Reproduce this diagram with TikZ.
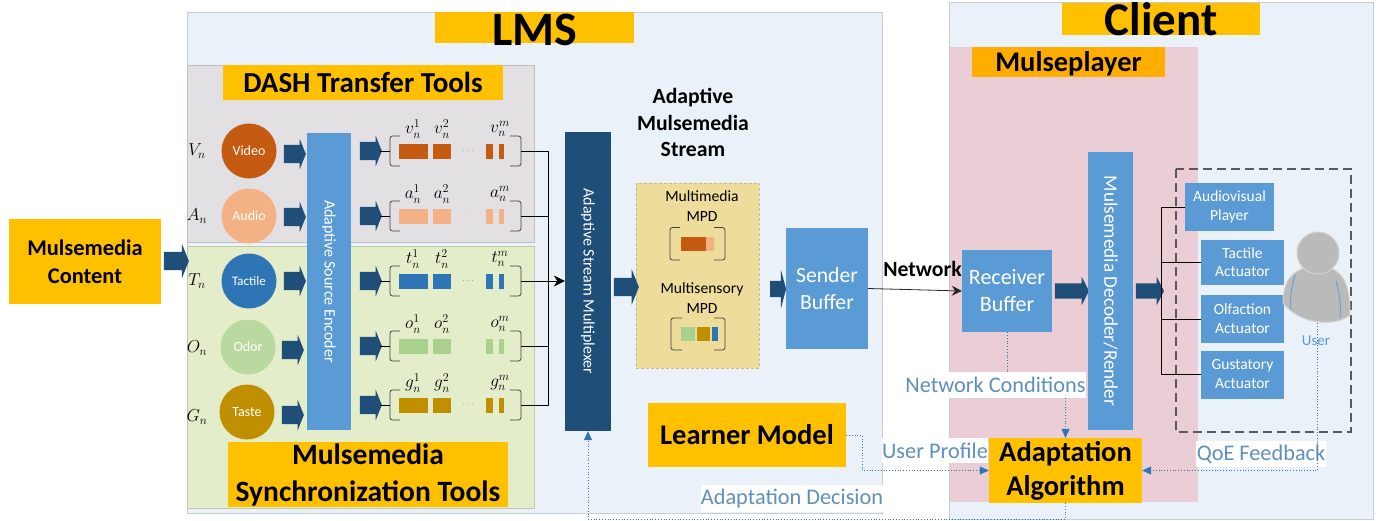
\documentclass[tikz,border=0pt]{standalone}
\usepackage{amsmath}
\usepackage{fontspec}
\setmainfont{Carlito}
\usepackage{tikz}
\usetikzlibrary{shapes,arrows.meta}

\definecolor{lmspanel}{HTML}{EAF1F9}
\definecolor{graypanel}{HTML}{E3E0E4}
\definecolor{greenpanel}{HTML}{E3EDC9}
\definecolor{pinkpanel}{HTML}{EBCDD5}
\definecolor{mpdpanel}{HTML}{EEDC9A}
\definecolor{titleyellow}{HTML}{FFC000}
\definecolor{boxblue}{HTML}{5B9BD5}
\definecolor{muxblue}{HTML}{1F4E79}
\definecolor{linkblue}{HTML}{2E75B6}
\definecolor{linktext}{HTML}{5F8FBC}
\definecolor{videoc}{HTML}{C55A11}
\definecolor{audioc}{HTML}{F4B183}
\definecolor{tactilec}{HTML}{2E75B6}
\definecolor{odorc}{HTML}{A9D18E}
\definecolor{tastec}{HTML}{BF8F00}

\tikzset{
  panel/.style={draw=#1!85!black,line width=0.6pt,fill=#1},
  titlebox/.style 2 args={fill=titleyellow,inner sep=0pt,align=center,font=\bfseries\fontsize{#1}{#2}\selectfont},
  bluebox/.style={fill=boxblue,text=white,inner sep=0pt,align=center},
  source/.style={circle,fill=#1,text=white,minimum size=55pt,inner sep=0pt,font=\fontsize{14}{14}\selectfont},
  blockarrow/.style={single arrow,fill=muxblue,inner xsep=0pt,inner ysep=9pt,
    single arrow head extend=6pt,single arrow tip angle=136},
  segbar/.style={minimum height=15pt,inner sep=0pt},
  seglabel/.style={inner sep=0pt,font=\fontsize{18}{18}\selectfont},
  bracketline/.style={draw=black!75,line width=0.8pt,rounded corners=2.5pt},
  busline/.style={draw=black,line width=0.8pt},
  dotlink/.style={draw=linkblue,dotted,line width=0.8pt},
  dotarrow/.style={dotlink,-{Triangle[length=9pt,width=8pt]}},
  linklabel/.style={fill=white,text=linktext,inner sep=0pt,font=\fontsize{22.3}{22.3}\selectfont},
}

\newcommand{\segrow}[4]{%
\node[blockarrow,minimum height=22pt] (#1arrow) at (369,#2) {};
\draw[bracketline] (400,#2-15) -- (390,#2-15) -- (390,#2+15) -- (400,#2+15);
\draw[bracketline] (510,#2-15) -- (521,#2-15) -- (521,#2+15) -- (510,#2+15);
\draw[busline] (380,#2) -- (390,#2);
\node[segbar,fill=#3,minimum width=29pt] (#1seg1) at (413,#2) {};
\node[segbar,fill=#3,minimum width=18pt] (#1seg2) at (442,#2) {};
\node[text=#3!75,inner sep=0pt] (#1dots) at (469,#2) {$\cdots$};
\node[segbar,fill=#3,minimum width=7pt] (#1seg3) at (489,#2) {};
\node[segbar,fill=#3,minimum width=5pt] (#1seg4) at (501,#2) {};
\node[seglabel] (#1top1) at (413,#2-22) {$#4_n^1$};
\node[seglabel] (#1top2) at (442,#2-22) {$#4_n^2$};
\node[seglabel] (#1topm) at (500,#2-22) {$#4_n^m$};
\coordinate (#1out) at (521,#2);
\coordinate (#1bus) at (548.5,#2);
\draw[busline] (#1out) -- (#1bus);
}

\begin{document}
\begin{tikzpicture}[x=1pt,y=-1pt]
\useasboundingbox (0,0) rectangle (1382,520);
% panels
\filldraw[panel=lmspanel] (187,12) rectangle (882,513);
\filldraw[panel=lmspanel] (949,2) rectangle (1373,519);
\filldraw[panel=graypanel] (187,65) rectangle (534,242);
\filldraw[panel=greenpanel] (187,246) rectangle (534,508);
\fill[pinkpanel] (950,47) rectangle (1198,502);
\filldraw[panel=mpdpanel,densely dashed] (636,183) rectangle (759,368);
% titles
\node[titlebox={48}{48},minimum width=199pt,minimum height=31pt,text height=31pt,text depth=0pt] (lmstitle) at (534.5,27.5) {\raisebox{-2pt}{LMS}};
\node[titlebox={47}{47},minimum width=198pt,minimum height=32pt,text height=32pt,text depth=0pt] (clienttitle) at (1161,19) {Client};
\node[titlebox={28.5}{28.5},minimum width=193pt,minimum height=30pt,text height=24pt,text depth=6pt,fill=titleyellow!70!orange] (playertitle) at (1068.5,62) {Mulseplayer};
\node[titlebox={29}{29},minimum width=280pt,minimum height=35pt] (dashtitle) at (363,82.5) {DASH Transfer Tools};
\node[titlebox={29.5}{37},minimum width=280pt,minimum height=65pt] (synctitle) at (368,474.5) {Mulsemedia\\Synchronization Tools};
% content
\node[titlebox={22.4}{28},minimum width=152pt,minimum height=85pt] (content) at (85,261.5) {Mulsemedia\\Content};
\node[blockarrow,minimum height=25pt,single arrow head extend=8pt] (contentarrow) at (174.5,261) {};
% sources
\node[seglabel] (vlabel) at (197,151) {$V_n$};
\node[seglabel] (alabel) at (197,216) {$A_n$};
\node[seglabel] (tlabel) at (197,281) {$T_n$};
\node[seglabel] (olabel) at (197,348) {$O_n$};
\node[seglabel] (glabel) at (197,417) {$G_n$};
\node[source=videoc] (video) at (249,151) {Video};
\node[source=audioc] (audio) at (249,216) {Audio};
\node[source=tactilec,font=\fontsize{13}{13}\selectfont] (tactile) at (249,281) {Tactile};
\node[source=odorc!70!greenpanel] (odor) at (248,347) {Odor};
\node[source=tastec] (taste) at (247,412) {Taste};
\node[blockarrow,minimum height=22pt] (videoin) at (293,154) {};
\node[blockarrow,minimum height=22pt] (audioin) at (293,217) {};
\node[blockarrow,minimum height=22pt] (tactilein) at (293,281) {};
\node[blockarrow,minimum height=22pt] (odorin) at (291,350) {};
\node[blockarrow,minimum height=22pt] (tastein) at (291,415) {};
\node[bluebox,minimum width=44pt,minimum height=297pt] (encoder) at (329,281.5) {};
\node[rotate=-90,text=white,font=\fontsize{16}{16}\selectfont] (encodertext) at (encoder) {Adaptive Source Encoder};
% segments
\segrow{video}{151}{videoc}{v}
\segrow{audio}{216}{audioc}{a}
\segrow{tactile}{281}{tactilec}{t}
\segrow{odor}{346}{odorc}{o}
\segrow{taste}{405}{tastec}{g}
% multiplexer
\node[fill=muxblue,minimum width=46pt,minimum height=299pt,inner sep=0pt] (mux) at (588,281.5) {};
\node[rotate=-90,text=white,font=\fontsize{16}{16}\selectfont] (muxtext) at (mux) {Adaptive Stream Multiplexer};
\draw[busline] (videobus) -- (tastebus);
\draw[busline,-{Stealth[length=11pt,width=11pt]}] (tactilebus) -- (mux.west |- tactilebus);
\node[blockarrow,minimum height=25pt,single arrow head extend=8.5pt] (muxarrow) at (624.5,287) {};
% stream
\node[align=center,inner sep=0pt,font=\bfseries\fontsize{21.7}{26.5}\selectfont] (streamtitle) at (693,122.5) {Adaptive\\Mulsemedia\\Stream};
\node[align=center,inner sep=0pt,font=\fontsize{15.6}{19.5}\selectfont] (mmtext) at (702,206) {Multimedia\\MPD};
\node[align=center,inner sep=0pt,font=\fontsize{15.6}{19.5}\selectfont] (mstext) at (702,298) {Multisensory\\MPD};
\draw[bracketline] (680,227.5) -- (670,227.5) -- (670,260) -- (680,260);
\draw[bracketline] (714,227.5) -- (725,227.5) -- (725,260) -- (714,260);
\fill[videoc] (681,237) rectangle (706,251);
\fill[audioc] (706,237) rectangle (714,251);
\draw[bracketline] (682,318) -- (671,318) -- (671,350) -- (682,350);
\draw[bracketline] (714,318) -- (725,318) -- (725,350) -- (714,350);
\fill[odorc] (681,327) rectangle (695,341);
\fill[tastec] (697,327) rectangle (710,341);
\fill[tactilec] (712,327) rectangle (718,341);
\node[blockarrow,minimum height=16pt,inner ysep=8pt,single arrow head extend=11pt,single arrow tip angle=150] (streamarrow) at (777,289) {};
% buffers
\node[bluebox,minimum width=82pt,minimum height=121pt,font=\fontsize{21.7}{27}\selectfont] (sender) at (827,288.5) {Sender\\Buffer};
\node[bluebox,minimum width=90pt,minimum height=82pt,font=\fontsize{22}{27}\selectfont] (receiver) at (1007,291) {Receiver\\Buffer};
\draw[black!85,line width=0.8pt,-{Stealth[length=10pt,width=10pt]}] (sender.east) -- (receiver.west);
\node[inner sep=0pt,font=\bfseries\fontsize{21.7}{21.7}\selectfont] (network) at (922.5,269) {Network};
\node[blockarrow,minimum height=34pt,inner ysep=7.5pt,single arrow head extend=6.5pt,single arrow tip angle=126] (receiverarrow) at (1070,291) {};
\node[bluebox,minimum width=45pt,minimum height=278pt] (decoder) at (1110.5,291) {};
\node[rotate=-90,text=white,font=\fontsize{19.2}{19.2}\selectfont] (decodertext) at (decoder) {Mulsemedia Decoder/Render};
\node[blockarrow,minimum height=28pt,inner ysep=7.5pt,single arrow head extend=6.5pt,single arrow tip angle=126] (decoderarrow) at (1148,291) {};
% actuators
\draw[draw=black!65,dash pattern=on 9pt off 5pt,line width=1.2pt] (1176,169) rectangle (1351,432);
\node[bluebox,minimum width=89pt,minimum height=48pt,font=\fontsize{15.5}{19}\selectfont] (avplayer) at (1229.5,207) {Audiovisual\\Player};
\node[bluebox,minimum width=83pt,minimum height=45pt,font=\fontsize{15.5}{18}\selectfont] (tactileact) at (1242.5,262) {Tactile\\Actuator};
\node[bluebox,minimum width=83pt,minimum height=48pt,font=\fontsize{15.5}{19}\selectfont] (olfaction) at (1242.5,319) {Olfaction\\Actuator};
\node[bluebox,minimum width=83pt,minimum height=48pt,font=\fontsize{15.5}{19}\selectfont] (gustatory) at (1242.5,374.5) {Gustatory\\Actuator};
\coordinate (fanout) at (1161.5,291);
\draw[busline] (avplayer.west) -| (fanout);
\draw[busline] (tactileact.west) -| (fanout);
\draw[busline] (olfaction.west) -| (fanout);
\draw[busline] (gustatory.west) -| (fanout);
% user
\filldraw[fill=black!27,draw=black!18,line width=1pt] (1283,303) .. controls (1283,278) and (1295,267) .. (1318,266) .. controls (1341,267) and (1350,280) .. (1350,315) .. controls (1335,327) and (1300,325) .. (1283,303);
\filldraw[fill=black!27,draw=black!18,line width=1pt] (1318,253) circle[radius=21];
\draw[boxblue,line width=0.8pt] (1295,275) .. controls (1291,288) and (1290,298) .. (1291,310);
\draw[boxblue,line width=0.8pt] (1336,281) .. controls (1340,295) and (1341,305) .. (1340,318);
\node[inner sep=0pt,text=boxblue,font=\fontsize{15}{15}\selectfont] (usertext) at (1316,341) {User};
\coordinate (userbase) at (1317,323);
% adaptation
\node[titlebox={28.5}{28.5},minimum width=198pt,minimum height=64pt] (learner) at (747,435) {Learner Model};
\node[titlebox={28.5}{34},minimum width=153pt,minimum height=65pt] (adapt) at (1065.5,470.5) {Adaptation\\Algorithm};
\node[linklabel,minimum width=181pt,minimum height=26pt] (netcond) at (995.5,385) {Network Conditions};
\node[linklabel,minimum width=106pt,minimum height=25pt] (profile) at (935,450.5) {User Profile};
\node[linklabel,minimum width=130pt,minimum height=26pt] (qoe) at (1261,454) {QoE Feedback};
\node[linklabel,minimum width=182pt,minimum height=27pt] (decision) at (792,498.5) {Adaptation Decision};
\draw[dotlink] (receiver.south) -- (receiver.south |- netcond.north);
\draw[dotarrow] (adapt.north |- netcond.south) -- (adapt.north);
\draw[dotarrow] (learner.east) -- ++(16,0) |- (adapt.west);
\draw[dotarrow] (userbase) |- (adapt.east);
\draw[dotarrow] (adapt.south) -- ++(0,16) -| (mux.south);
\end{tikzpicture}
\end{document}
